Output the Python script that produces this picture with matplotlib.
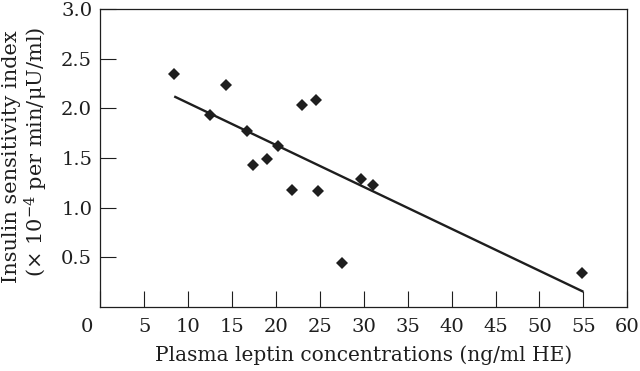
import numpy as np
import matplotlib
matplotlib.use("Agg")
import matplotlib.pyplot as plt
import matplotlib.transforms as mtransforms

# Data
leptin = [8.4, 14.3, 12.5, 16.7, 20.2, 17.4, 19.0, 22.9, 24.6, 21.8, 24.8, 27.5, 29.7, 31.1, 54.8]
sensitivity = [2.35, 2.24, 1.93, 1.77, 1.62, 1.43, 1.49, 2.03, 2.08, 1.18, 1.17, 0.44, 1.29, 1.23, 0.345]

# regression line end points
fit_x = [8.4, 55.0]
fit_y = [2.12, 0.154]

x_ticks = list(range(0, 61, 5))
y_ticks = [0.5, 1.0, 1.5, 2.0, 2.5, 3.0]
y_tick_labels = ["0.5", "1.0", "1.5", "2.0", "2.5", "3.0"]

ink = "#1e1e1e"

plt.rcParams["font.family"] = ["DejaVu Serif"]
plt.rcParams["mathtext.fontset"] = "dejavuserif"

fig = plt.figure(figsize=(6.4, 3.71), dpi=100)
ax = fig.add_axes([0.157, 0.1725, 0.823, 0.8032])

ax.plot(fit_x, fit_y, color=ink, linewidth=1.7, solid_capstyle="butt")
ax.plot(leptin, sensitivity, linestyle="none", marker="D", markersize=6.2,
        color=ink, markeredgewidth=0)

ax.set_xlim(0, 60)
ax.set_ylim(0, 3.0)
ax.set_xticks(x_ticks)
ax.set_xticklabels([str(v) for v in x_ticks])
ax.set_yticks(y_ticks)
ax.set_yticklabels(y_tick_labels)

ax.tick_params(direction="in", length=11.5, width=0.8, colors=ink, labelsize=14)
ax.tick_params(axis="x", pad=8)
ax.tick_params(axis="y", pad=6)
for s in ax.spines.values():
    s.set_linewidth(0.9)
    s.set_color(ink)

# "0" label sits left of the axis corner
zero = ax.get_xticklabels()[0]
zero.set_transform(zero.get_transform() + mtransforms.ScaledTranslation(-14 / 100, 0, fig.dpi_scale_trans))

ax.set_xlabel("Plasma leptin concentrations (ng/ml HE)", fontsize=14.5, color=ink, labelpad=7)
fig.text(0.018, 0.577, "Insulin sensitivity index", rotation=90, fontsize=15,
         color=ink, ha="center", va="center")
fig.text(0.057, 0.59, "(× 10$^{-4}$ per min/μU/ml)", rotation=90, fontsize=15,
         color=ink, ha="center", va="center")

fig.savefig("out.png", dpi=100)
